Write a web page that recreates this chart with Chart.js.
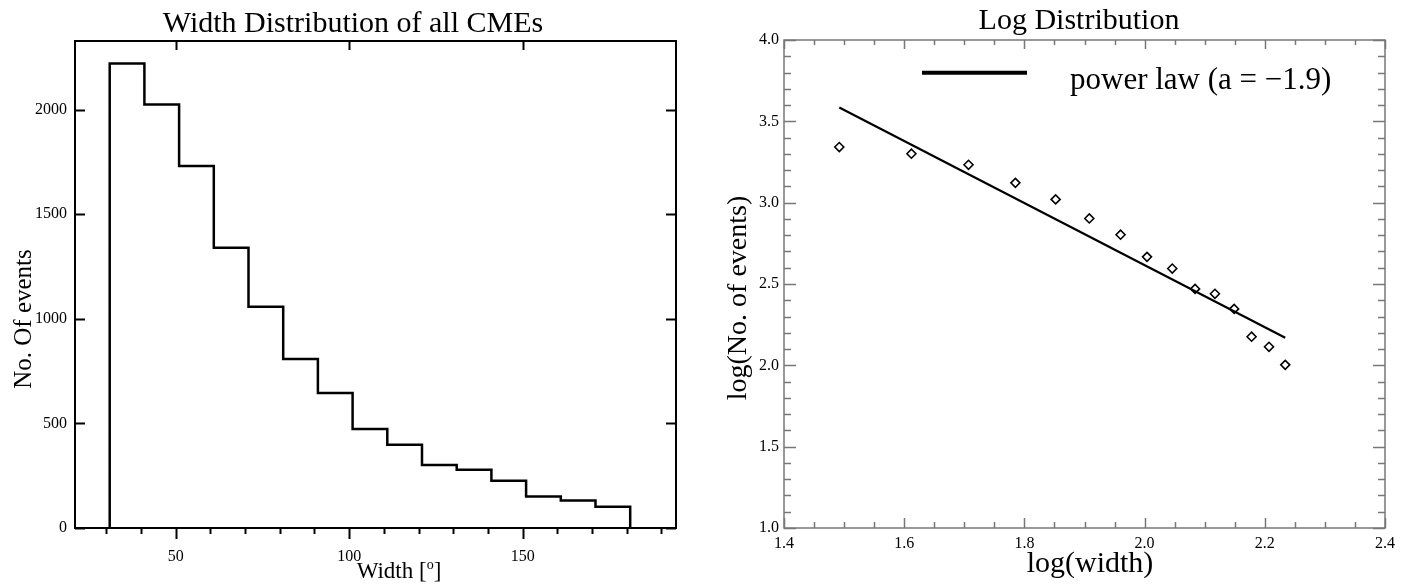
<!DOCTYPE html>
<html>
<head>
<meta charset="utf-8">
<script src="https://cdn.jsdelivr.net/npm/chart.js@4"></script>
<style>
  html, body { margin: 0; padding: 0; background: #fff; }
  #wrap { position: relative; width: 1410px; height: 585px; overflow: hidden; }
  canvas { position: absolute; top: 0; }
  #histChart { left: 0; }
  #logChart { left: 705px; }
</style>
</head>
<body>
<div id="wrap">
  <canvas id="histChart" width="705" height="585"></canvas>
  <canvas id="logChart" width="705" height="585"></canvas>
</div>
<script>
// histogram: bin edges (deg) and counts per bin
const binEdges = [31, 41, 51, 61, 71, 81, 91, 101, 111, 121, 131, 141, 151, 161, 171, 181];
const binCounts = [2220, 2025, 1730, 1340, 1058, 808, 645, 473, 398, 301, 278, 226, 151, 132, 102];

// log distribution points
const logWidth = [1.492, 1.612, 1.707, 1.785, 1.852, 1.908, 1.960, 2.004, 2.046, 2.084, 2.117, 2.149, 2.178, 2.207, 2.234];
const logEvents = [3.342, 3.301, 3.233, 3.122, 3.020, 2.903, 2.803, 2.667, 2.595, 2.470, 2.440, 2.347, 2.176, 2.114, 2.003];

// power law fit, end points
const fitX = [1.492, 2.234];
const fitY = [3.585, 2.169];

// ticks
const histXTicks = [50, 100, 150];
const histXMinor = [30, 40, 60, 70, 80, 90, 110, 120, 130, 140, 160, 170, 180, 190];
const histYTicks = [0, 500, 1000, 1500, 2000];
const logXTicks = [1.4, 1.6, 1.8, 2.0, 2.2, 2.4];
const logYTicks = [1.0, 1.5, 2.0, 2.5, 3.0, 3.5, 4.0];

const SERIF = "'Liberation Serif', 'DejaVu Serif', serif";

function histPoints() {
  const pts = [{ x: binEdges[0], y: 0 }];
  binCounts.forEach((c, i) => pts.push({ x: binEdges[i + 1], y: c }));
  pts.push({ x: binEdges[binEdges.length - 1], y: 0 });
  return pts;
}

function minorBetween(majors, n) {
  const out = [];
  for (let i = 0; i < majors.length - 1; i++) {
    const step = (majors[i + 1] - majors[i]) / n;
    for (let k = 1; k < n; k++) out.push(majors[i] + step * k);
  }
  return out;
}

// draws box, ticks, tick labels and free text; positive length = inward
const frameTicks = {
  id: "frameTicks",
  afterDraw(chart, args, o) {
    const { ctx, chartArea: a, scales } = chart;
    const x = scales.x, y = scales.y;
    ctx.save();
    ctx.strokeStyle = o.color;
    ctx.lineWidth = o.lineWidth;
    ctx.lineCap = "square";
    ctx.strokeRect(a.left, a.top, a.right - a.left, a.bottom - a.top);

    const hTick = (v, yy, len) => {
      if (!len) return;
      const px = Math.round(x.getPixelForValue(v)) + 0.5;
      ctx.beginPath(); ctx.moveTo(px, yy); ctx.lineTo(px, yy + len); ctx.stroke();
    };
    const vTick = (v, xx, len) => {
      if (!len) return;
      const py = Math.round(y.getPixelForValue(v)) + 0.5;
      ctx.beginPath(); ctx.moveTo(xx, py); ctx.lineTo(xx + len, py); ctx.stroke();
    };
    ctx.lineCap = "butt";
    o.xMajor.forEach((v) => { hTick(v, a.bottom, -o.bottom[0]); hTick(v, a.top, o.top[0]); });
    o.xMinor.forEach((v) => { hTick(v, a.bottom, -o.bottom[1]); hTick(v, a.top, o.top[1]); });
    o.yMajor.forEach((v) => { vTick(v, a.left, o.left[0]); vTick(v, a.right, -o.right[0]); });
    o.yMinor.forEach((v) => { vTick(v, a.left, o.left[1]); vTick(v, a.right, -o.right[1]); });

    ctx.fillStyle = "#000";
    ctx.font = o.tickFont;
    ctx.textAlign = "center";
    ctx.textBaseline = "middle";
    o.xMajor.forEach((v) => ctx.fillText(o.fmt(v), x.getPixelForValue(v), a.bottom + o.xLabelGap));
    ctx.textAlign = "right";
    o.yMajor.forEach((v) => ctx.fillText(o.fmt(v), a.left - o.yLabelGap, y.getPixelForValue(v)));

    ctx.textBaseline = "alphabetic";
    o.texts.forEach((t) => {
      ctx.save();
      ctx.translate(t.x, t.y);
      if (t.rotate) ctx.rotate(t.rotate);
      ctx.textAlign = t.align || "center";
      ctx.font = t.font;
      if (t.parts) {
        const widths = t.parts.map((p) => { ctx.font = p.font; return ctx.measureText(p.text).width; });
        let cx = -widths.reduce((s, w) => s + w, 0) / 2;
        ctx.textAlign = "left";
        t.parts.forEach((p, i) => {
          ctx.font = p.font;
          ctx.fillText(p.text, cx, p.dy || 0);
          cx += widths[i];
        });
      } else {
        ctx.fillText(t.text, 0, 0);
      }
      ctx.restore();
    });

    (o.lines || []).forEach((l) => {
      ctx.strokeStyle = "#000";
      ctx.lineWidth = l.width;
      ctx.beginPath(); ctx.moveTo(l.x1, l.y); ctx.lineTo(l.x2, l.y); ctx.stroke();
    });
    ctx.restore();
  },
};

function renderHistChart() {
  new Chart(document.getElementById("histChart"), {
    type: "line",
    data: {
      datasets: [{
        data: histPoints(),
        borderColor: "#000",
        borderWidth: 2.5,
        stepped: "after",
        pointRadius: 0,
        fill: false,
        clip: false,
      }],
    },
    options: {
      responsive: false,
      animation: false,
      events: [],
      layout: { padding: { left: 75, top: 41, right: 29, bottom: 57 } },
      scales: {
        x: { type: "linear", min: 21, max: 194.2, display: false },
        y: { type: "linear", min: 0, max: 2328, display: false },
      },
      plugins: {
        legend: { display: false },
        tooltip: { enabled: false },
        frameTicks: {
          color: "#000",
          lineWidth: 2,
          xMajor: histXTicks,
          xMinor: histXMinor,
          yMajor: histYTicks,
          yMinor: [],
          bottom: [-11, -6],
          top: [9, 0],
          left: [10, 0],
          right: [10, 0],
          tickFont: `16px ${SERIF}`,
          fmt: (v) => String(v),
          xLabelGap: 29,
          yLabelGap: 8,
          texts: [
            { text: "Width Distribution of all CMEs", x: 353, y: 32, font: `30px ${SERIF}` },
            {
              x: 399, y: 578,
              parts: [
                { text: "Width [", font: `23px ${SERIF}` },
                { text: "o", font: `14px ${SERIF}`, dy: -9 },
                { text: "]", font: `23px ${SERIF}` },
              ],
            },
            { text: "No. Of events", x: 31, y: 319, rotate: -Math.PI / 2, font: `25px ${SERIF}` },
          ],
        },
      },
    },
    plugins: [frameTicks],
  });
}

function renderLogChart() {
  const pts = logWidth.map((v, i) => ({ x: v, y: logEvents[i] }));
  const fit = fitX.map((v, i) => ({ x: v, y: fitY[i] }));
  new Chart(document.getElementById("logChart"), {
    type: "scatter",
    data: {
      datasets: [
        {
          label: "power law (a = \u22121.9)",
          data: fit,
          showLine: true,
          borderColor: "#000",
          borderWidth: 2.2,
          pointRadius: 0,
          clip: false,
        },
        {
          label: "data",
          data: pts,
          pointStyle: "rectRot",
          pointRadius: 4.5,
          borderColor: "#000",
          borderWidth: 1.6,
          backgroundColor: "#fff",
          clip: false,
        },
      ],
    },
    options: {
      responsive: false,
      animation: false,
      events: [],
      layout: { padding: { left: 79, top: 40, right: 25, bottom: 57 } },
      scales: {
        x: { type: "linear", min: 1.4, max: 2.4, display: false },
        y: { type: "linear", min: 1.0, max: 4.0, display: false },
      },
      plugins: {
        legend: { display: false },
        tooltip: { enabled: false },
        frameTicks: {
          color: "#777",
          lineWidth: 1.5,
          xMajor: logXTicks,
          xMinor: minorBetween(logXTicks, 4),
          yMajor: logYTicks,
          yMinor: minorBetween(logYTicks, 5),
          bottom: [10, 6],
          top: [9, 5],
          left: [12, 7],
          right: [12, 7],
          tickFont: `16px ${SERIF}`,
          fmt: (v) => v.toFixed(1),
          xLabelGap: 16,
          yLabelGap: 5,
          texts: [
            { text: "Log Distribution", x: 1079 - 705, y: 29, font: `30px ${SERIF}` },
            { text: "log(width)", x: 1090 - 705, y: 572, font: `30px ${SERIF}` },
            { text: "log(No. of events)", x: 746 - 705, y: 298, rotate: -Math.PI / 2, font: `28px ${SERIF}` },
            { text: "power law (a = \u22121.9)", x: 1070 - 705, y: 89, align: "left", font: `31px ${SERIF}` },
          ],
          lines: [{ x1: 922 - 705, x2: 1027 - 705, y: 72.7, width: 4 }],
        },
      },
    },
    plugins: [frameTicks],
  });
}

renderHistChart();
renderLogChart();
</script>
</body>
</html>
